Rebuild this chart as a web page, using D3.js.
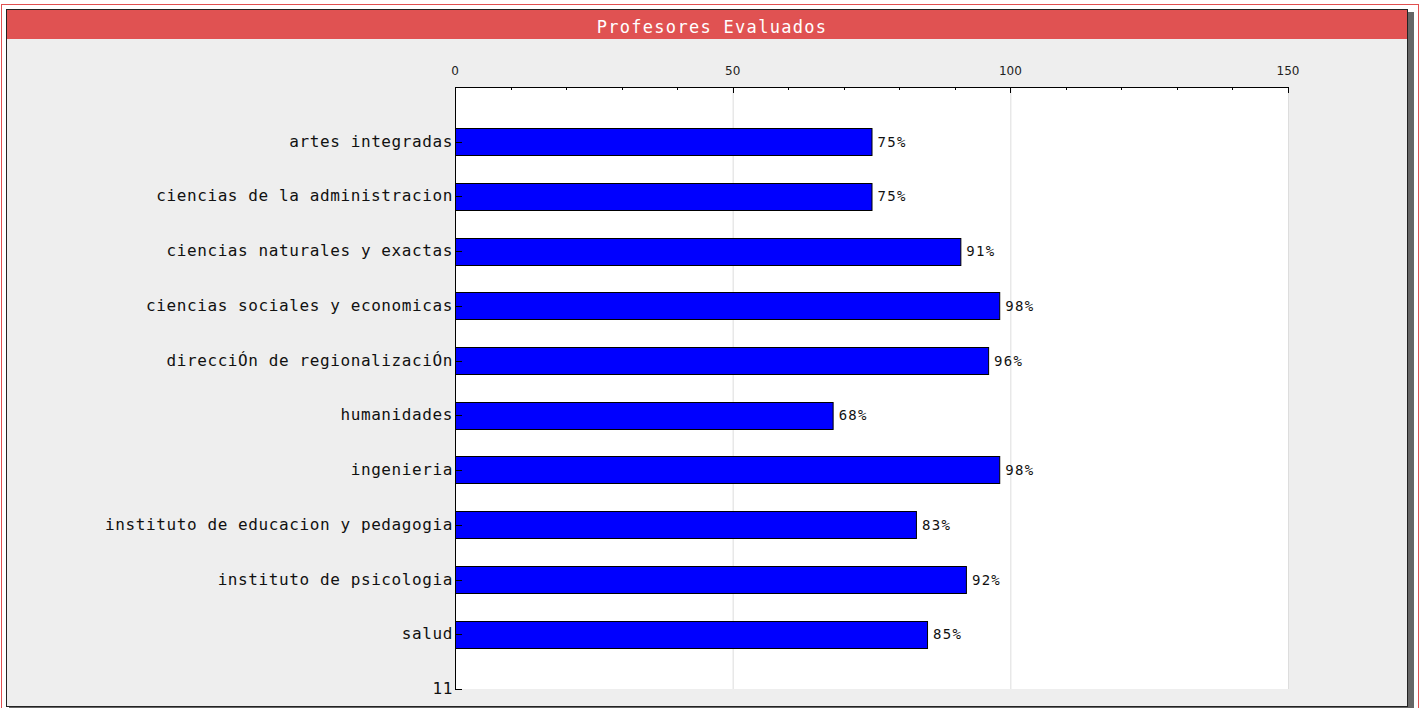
<!DOCTYPE html>
<html>
<head>
<meta charset="utf-8">
<script src="https://cdn.jsdelivr.net/npm/d3@7"></script>
<style>
  body { margin: 0; background: #fff; }
  svg { display: block; }
  .lbl { font-family: "DejaVu Sans Mono", monospace; font-size: 16px; letter-spacing: 0.6px; fill: #111; }
  .val { font-family: "DejaVu Sans Mono", monospace; font-size: 14px; letter-spacing: 1.3px; fill: #111; }
  .tick { font-family: "DejaVu Sans", sans-serif; font-size: 12px; fill: #222; }
</style>
</head>
<body>
<svg id="chart"></svg>
<script>
var width = 1421,
    height = 708;

var categories = ["artes integradas", "ciencias de la administracion", "ciencias naturales y exactas",
                  "ciencias sociales y economicas", "direcciÓn de regionalizaciÓn", "humanidades",
                  "ingenieria", "instituto de educacion y pedagogia", "instituto de psicologia", "salud"];
var values = [75, 75, 91, 98, 96, 68, 98, 83, 92, 85];
var xTicks = [0, 50, 100, 150];
var endLabel = "11";

var svg = d3.select("#chart").attr("width", width).attr("height", height);

// frame
svg.append("rect").attr("x", 1.5).attr("y", 4.5).attr("width", 1417).attr("height", 720)
    .attr("fill", "none").attr("stroke", "#e05050");
svg.append("rect").attr("x", 9).attr("y", 12).attr("width", 1405).attr("height", 700)
    .attr("fill", "#666");
svg.append("rect").attr("x", 6.5).attr("y", 9.5).attr("width", 1401).attr("height", 697)
    .attr("fill", "#eeeeee").attr("stroke", "#222");
svg.append("rect").attr("x", 7).attr("y", 10).attr("width", 1400).attr("height", 29)
    .attr("fill", "#e05252");
svg.append("text").attr("x", 712).attr("y", 33)
    .attr("text-anchor", "middle")
    .style("font-family", "DejaVu Sans Mono, monospace")
    .style("font-size", "17px").style("letter-spacing", "1.3px")
    .attr("fill", "#fff")
    .text("Profesores Evaluados");

var x = d3.scaleLinear().domain([0, 150]).range([455, 1288]),
    y = d3.scaleLinear().domain([0, categories.length + 1]).range([87, 689]),
    band = y(1) - y(0);

// plot area
svg.append("rect").attr("x", x(0)).attr("y", y(0))
    .attr("width", x(150) - x(0)).attr("height", y(11) - y(0))
    .attr("fill", "#fff");

// grid
svg.selectAll("line.grid").data(xTicks.slice(1)).enter().append("line")
    .attr("x1", d => x(d) + 0.5).attr("x2", d => x(d) + 0.5)
    .attr("y1", y(0)).attr("y2", y(11))
    .attr("stroke", "#dddddd");

// bars
svg.selectAll("rect.bar").data(values).enter().append("rect")
    .attr("x", x(0) + 0.5)
    .attr("y", (d, i) => Math.round(y(i + 1) - band / 4) + 0.5)
    .attr("width", d => x(d) - x(0))
    .attr("height", Math.round(band / 2))
    .attr("fill", "#0000ff").attr("stroke", "#000");

svg.selectAll("text.val").data(values).enter().append("text")
    .attr("class", "val")
    .attr("x", d => x(d) + 6)
    .attr("y", (d, i) => y(i + 1) + 5)
    .text(d => d + "%");

// top axis
svg.append("line").attr("x1", x(0)).attr("x2", x(150)).attr("y1", y(0) + 0.5).attr("y2", y(0) + 0.5)
    .attr("stroke", "#000");
svg.selectAll("line.minor").data(x.ticks(15)).enter().append("line")
    .attr("x1", d => Math.round(x(d)) + 0.5).attr("x2", d => Math.round(x(d)) + 0.5)
    .attr("y1", y(0)).attr("y2", d => xTicks.indexOf(d) >= 0 ? y(0) + 6 : y(0) + 3)
    .attr("stroke", "#000");
svg.selectAll("text.tick").data(xTicks).enter().append("text")
    .attr("class", "tick")
    .attr("x", d => x(d)).attr("y", 75)
    .attr("text-anchor", "middle")
    .text(d => d);

// left axis
svg.append("line").attr("x1", x(0) + 0.5).attr("x2", x(0) + 0.5).attr("y1", y(0)).attr("y2", y(11) + 0.5)
    .attr("stroke", "#000");
svg.selectAll("line.ytick").data(d3.range(1, categories.length + 2)).enter().append("line")
    .attr("x1", x(0)).attr("x2", x(0) + 7)
    .attr("y1", d => Math.round(y(d)) + 0.5).attr("y2", d => Math.round(y(d)) + 0.5)
    .attr("stroke", "#000");
svg.selectAll("text.lbl").data(categories.concat([endLabel])).enter().append("text")
    .attr("class", "lbl")
    .attr("x", x(0) - 2)
    .attr("y", (d, i) => y(i + 1) + 5)
    .attr("text-anchor", "end")
    .text(d => d);
</script>
</body>
</html>
